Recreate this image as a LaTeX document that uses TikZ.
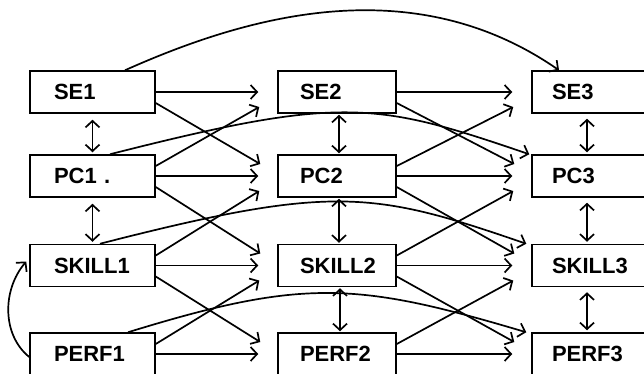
\documentclass[tikz,border=0pt]{standalone}
\usepackage{fontspec}
\setmainfont{Liberation Sans}
\usetikzlibrary{arrows.meta}
\begin{document}
\begin{tikzpicture}[x=1pt,y=-1pt,
  box/.style={draw,line width=1.5pt,minimum height=42pt,align=left,
    font=\fontsize{22}{22}\selectfont\bfseries},
  colA/.style={box,text width=77pt,inner xsep=24pt},
  colB/.style={box,text width=74pt,inner xsep=22pt},
  colC/.style={box,text width=78pt,inner xsep=20pt},
  tip/.style={Straight Barb[length=6.5pt,width=14pt,line width=1.7pt]},
  arr/.style={line width=1.7pt,-{Straight Barb[length=6.5pt,width=14pt,line width=1.7pt]}},
  dbl/.style={line width=1.7pt,{Straight Barb[length=6.5pt,width=14pt,line width=1.7pt]}-{Straight Barb[length=6.5pt,width=14pt,line width=1.7pt]}}]
\useasboundingbox (0,0) rectangle (644,373);
\clip (0,0) rectangle (644,373);
% column 1
\node[colA] (se1) at (92.5,92) {SE1};
\node[colA] (pc1) at (92.5,176) {PC1 .};
\node[colA] (sk1) at (92.5,265.5) {SKILL1};
\node[colA] (pf1) at (92.5,354) {PERF1};
% column 2
\node[colB] (se2) at (337,92) {SE2};
\node[colB] (pc2) at (337,176) {PC2};
\node[colB] (sk2) at (337,265.5) {SKILL2};
\node[colB] (pf2) at (337,354) {PERF2};
% column 3
\node[colC] (se3) at (591,92) {SE3};
\node[colC] (pc3) at (591,176) {PC3};
\node[colC] (sk3) at (591,265.5) {SKILL3};
\node[colC] (pf3) at (591,354) {PERF3};
% horizontal arrows
\foreach \a/\b in {se1/se2,pc1/pc2,sk1/sk2,pf1/pf2,se2/se3,pc2/pc3,sk2/sk3,pf2/pf3}
  \draw[arr] (\a.east) -- ([xshift=-19pt]\b.west);
% diagonal down
\foreach \a/\b in {se1/pc2,pc1/sk2,sk1/pf2,se2/pc3,pc2/sk3,sk2/pf3}
  \draw[arr] ([yshift=-11pt]\a.east) -- ([xshift=-17pt,yshift=12pt]\b.west);
% diagonal up
\foreach \a/\b in {pc1/se2,sk1/pc2,pf1/sk2,pc2/se3,sk2/pc3,pf2/sk3}
  \draw[arr] ([yshift=10pt]\a.east) -- ([xshift=-18pt,yshift=-15pt]\b.west);
% vertical double arrows
\draw[dbl,shorten <=6pt,shorten >=2pt] (se1.south) -- (pc1.north);
\draw[dbl,shorten <=6pt,shorten >=2pt] (pc1.south) -- (sk1.north);
\draw[dbl,shorten <=1pt,shorten >=1pt] ([xshift=2pt]se2.south) -- ([xshift=2pt]pc2.north);
\draw[dbl,shorten <=1pt,shorten >=1pt] ([xshift=2pt]pc2.south) -- ([xshift=2pt]sk2.north);
\draw[dbl,shorten <=1pt,shorten >=1pt] ([xshift=3pt]sk2.south) -- ([xshift=3pt]pf2.north);
\draw[dbl,shorten <=5pt,shorten >=2pt] ([xshift=-4pt]se3.south) -- ([xshift=-4pt]pc3.north);
\draw[dbl,shorten <=5pt,shorten >=2pt] ([xshift=-4pt]pc3.south) -- ([xshift=-4pt]sk3.north);
\draw[dbl,shorten <=5pt,shorten >=2pt] ([xshift=-4pt]sk3.south) -- ([xshift=-4pt]pf3.north);
% long curves
\draw[arr] ([xshift=32.5pt]se1.north) .. controls (242,18) and (410,-33) .. ([xshift=-32pt]se3.north);
\draw[arr] ([xshift=17.5pt]pc1.north) .. controls (343,95) and (376,102) .. ([xshift=-2pt]pc3.north west);
\draw[arr] ([xshift=7.5pt]sk1.north) .. controls (333,184) and (373,191) .. ([xshift=-5pt]sk3.north west);
\draw[arr] ([xshift=35.5pt]pf1.north) .. controls (304,278) and (357,282) .. ([xshift=-5pt]pf3.north west);
% loop from PERF1 to SKILL1
\draw[arr] ([yshift=-3pt]pf1.west) .. controls (2,335) and (2,290) .. ([xshift=-3pt,yshift=4pt]sk1.west);
\end{tikzpicture}
\end{document}
